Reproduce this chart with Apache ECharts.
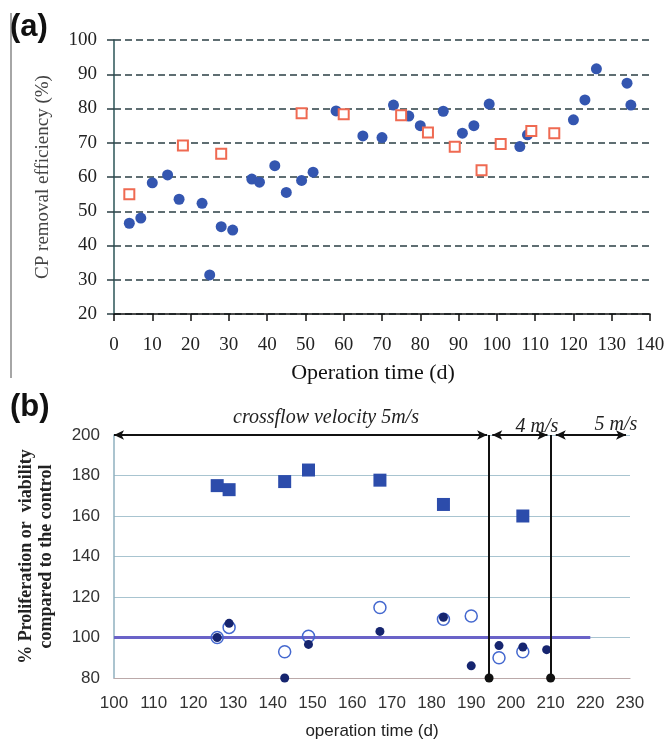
<!DOCTYPE html>
<html><head><meta charset="utf-8">
<script src="https://cdn.jsdelivr.net/npm/echarts@6/dist/echarts.min.js"></script>
<style>html,body{margin:0;padding:0;background:#fff}#c{width:668px;height:740px}</style>
</head><body><div id="c"></div>
<script>
// Panel (a): CP removal efficiency vs operation time
const aBlue = [[4,46.5],[7,48],[10,58.3],[14,60.6],[17,53.5],[23,52.3],[25,31.4],[28,45.5],[31,44.5],[36,59.4],[38,58.5],[42,63.3],[45,55.5],[49,59],[52,61.4],[58,79.3],[65,72],[70,71.5],[73,81],[77,77.8],[80,75],[86,79.2],[91,72.8],[94,75],[98,81.3],[106,68.9],[108,72.3],[120,76.7],[123,82.5],[126,91.6],[134,87.4],[135,81]];
const aRed = [[4,55],[18,69.2],[28,66.8],[49,78.6],[60,78.3],[75,78],[82,73],[89,68.8],[96,62],[101,69.6],[109,73.4],[115,72.8]];
const aYTicks = [20,30,40,50,60,70,80,90,100];
const aXTicks = [0,10,20,30,40,50,60,70,80,90,100,110,120,130,140];

// Panel (b): % proliferation or viability compared to control
const bSquares = [[126,175],[129,173],[143,177],[149,182.7],[167,177.7],[183,165.7],[203,160]];
const bFilled = [[126,100],[129,107],[143,80],[149,96.6],[167,103],[183,110],[190,86],[197,96],[203,95.3],[209,94]];
const bOpen = [[126,100],[129,105],[143,93],[149,100.6],[167,114.8],[183,109],[190,110.6],[197,90],[203,93]];
const bControl = [[100,100],[220,100]];
const bYTicks = [80,100,120,140,160,180,200];
const bXTicks = [100,110,120,130,140,150,160,170,180,190,200,210,220,230];
const phaseBounds = [194.5, 210];
const phaseArrows = [[100,194],[195.3,209.2],[211.3,229]];
const phaseLabels = ['crossflow velocity 5m/s','4 m/s','5 m/s'];

const serif = '"Liberation Serif","DejaVu Serif",serif';
const sans = '"Liberation Sans",Arial,sans-serif';

const chart = echarts.init(document.getElementById('c'));
chart.setOption({
  animation:false,
  backgroundColor:'#fff',
  grid:[
    {left:114, top:40, width:536, height:274, containLabel:false, outerBoundsMode:'none'},
    {left:114, top:435, width:516, height:243, containLabel:false, outerBoundsMode:'none'}
  ],
  xAxis:[
    {gridIndex:0, type:'value', min:aXTicks[0], max:aXTicks[aXTicks.length-1], interval:10,
     name:'Operation time (d)', nameLocation:'middle', nameGap:48,
     nameTextStyle:{fontFamily:serif, fontSize:22, color:'#111', padding:[0,18,0,0]},
     axisLine:{lineStyle:{color:'#111', width:1.5}},
     axisTick:{show:true, length:7, lineStyle:{color:'#111', width:1.5}},
     axisLabel:{fontFamily:serif, fontSize:19, color:'#222', margin:22},
     splitLine:{show:false}},
    {gridIndex:1, type:'value', min:bXTicks[0], max:bXTicks[bXTicks.length-1], interval:10,
     name:'operation time (d)', nameLocation:'middle', nameGap:45,
     nameTextStyle:{fontFamily:sans, fontSize:17, color:'#222'},
     axisLine:{lineStyle:{color:'#bba9a9', width:1.2}},
     axisTick:{show:false},
     axisLabel:{fontFamily:sans, fontSize:17, color:'#333', margin:17},
     splitLine:{show:false}}
  ],
  yAxis:[
    {gridIndex:0, type:'value', min:aYTicks[0], max:aYTicks[aYTicks.length-1], interval:10,
     name:'CP removal efficiency (%)', nameLocation:'middle', nameGap:61,
     nameTextStyle:{fontFamily:serif, fontSize:19, color:'#444'},
     axisLine:{show:true, lineStyle:{color:'#2b5557', width:1.5}},
     axisTick:{show:true, length:7, lineStyle:{color:'#2b3f44', width:1.5}},
     axisLabel:{fontFamily:serif, fontSize:19, color:'#222', margin:17},
     splitLine:{show:true, lineStyle:{color:'#2b3f44', width:1.5, type:[7,4]}}},
    {gridIndex:1, type:'value', min:bYTicks[0], max:bYTicks[bYTicks.length-1], interval:20,
     name:'% Proliferation or  viability\ncompared to the control', nameLocation:'middle', nameGap:58,
     nameTextStyle:{fontFamily:serif, fontSize:18, fontWeight:'bold', color:'#222', lineHeight:20},
     axisLine:{show:true, lineStyle:{color:'#8fb0bf', width:1.5}},
     axisTick:{show:false},
     axisLabel:{fontFamily:sans, fontSize:17, color:'#333', margin:14},
     splitLine:{show:true, lineStyle:{color:'#a8c4d0', width:1}}}
  ],
  series:[
    {type:'scatter', xAxisIndex:0, yAxisIndex:0, data:aBlue, symbol:'circle', symbolSize:11,
     itemStyle:{color:'#3456b0', opacity:1}},
    {type:'scatter', xAxisIndex:0, yAxisIndex:0, data:aRed, symbol:'rect', symbolSize:10,
     itemStyle:{color:'#fff', borderColor:'#ef6a52', borderWidth:2, opacity:1}},
    {type:'line', xAxisIndex:1, yAxisIndex:1, data:bControl, showSymbol:false, symbol:'none',
     lineStyle:{color:'#6a63c8', width:3}, z:1,
     markLine:{silent:true, animation:false,
       lineStyle:{color:'#111', width:2, type:'solid'},
       label:{show:false},
       data:[
         ...phaseBounds.map(x=>[{coord:[x,80], symbol:'circle', symbolSize:9},{coord:[x,200], symbol:'none'}]),
         ...phaseArrows.map(p=>[{coord:[p[0],200], symbol:'arrow', symbolSize:[7,10]},{coord:[p[1],200], symbol:'arrow', symbolSize:[7,10]}])
       ]}},
    {type:'scatter', xAxisIndex:1, yAxisIndex:1, data:bSquares, symbol:'rect', symbolSize:13,
     itemStyle:{color:'#2c4cab', opacity:1}},
    {type:'scatter', xAxisIndex:1, yAxisIndex:1, data:bOpen, symbol:'circle', symbolSize:12,
     itemStyle:{color:'rgba(255,255,255,0)', borderColor:'#4468cf', borderWidth:1.5, opacity:1}},
    {type:'scatter', xAxisIndex:1, yAxisIndex:1, data:bFilled, symbol:'circle', symbolSize:9,
     itemStyle:{color:'#16256f', opacity:1}}
  ],
  graphic:[
    {type:'line', shape:{x1:11, y1:13, x2:11, y2:378}, style:{stroke:'#888', lineWidth:1.5}},
    {type:'text', left:10, top:12, style:{text:'(a)', font:'bold 31px "Liberation Sans",Arial,sans-serif', fill:'#111'}},
    {type:'text', left:10, top:392, style:{text:'(b)', font:'bold 31px "Liberation Sans",Arial,sans-serif', fill:'#111'}},
    {type:'text', x:326, y:418, style:{text:phaseLabels[0], font:'italic 20px "Liberation Serif",serif', fill:'#222', align:'center', verticalAlign:'middle'}},
    {type:'text', x:537, y:427, style:{text:phaseLabels[1], font:'italic 20px "Liberation Serif",serif', fill:'#222', align:'center', verticalAlign:'middle'}},
    {type:'text', x:616, y:425, style:{text:phaseLabels[2], font:'italic 20px "Liberation Serif",serif', fill:'#222', align:'center', verticalAlign:'middle'}}
  ]
});
</script></body></html>
